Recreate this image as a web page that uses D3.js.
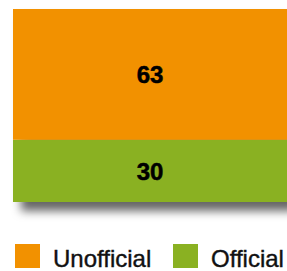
<!DOCTYPE html>
<html>
<head>
  <style>
    body { margin: 0; background: #fff; }
    .value { font-family: "Liberation Sans", Arial, sans-serif; font-size: 24px; font-weight: bold; fill: #000; stroke: #000; stroke-width: 0.5px; }
    .legend-text { font-family: "Liberation Sans", Arial, sans-serif; font-size: 24px; fill: #111; stroke: #111; stroke-width: 0.4px; }
  </style>
</head>
<body>
  <script src="https://cdn.jsdelivr.net/npm/d3@7"></script>
  <script>
    // data
    const categories = ["Official", "Unofficial"];
    const values = [30, 63];
    const colors = ["#8ab122", "#f29100"];

    const width = 287, height = 271;
    const margin = { top: 9, right: -1, bottom: 69, left: 13 };

    const svg = d3.select("body").append("svg")
      .attr("width", width)
      .attr("height", height);

    // drop shadow under the bar
    const filter = svg.append("defs").append("filter")
      .attr("id", "shadow")
      .attr("x", "-10%").attr("y", "-10%")
      .attr("width", "130%").attr("height", "130%");
    filter.append("feDropShadow")
      .attr("dx", 8).attr("dy", 9)
      .attr("stdDeviation", 5)
      .attr("flood-color", "#000")
      .attr("flood-opacity", 0.6);

    // stacked positions
    const stacked = [];
    let acc = 0;
    values.forEach((v, i) => {
      stacked.push({ name: categories[i], value: v, y0: acc, y1: acc + v, color: colors[i] });
      acc += v;
    });

    const y = d3.scaleLinear()
      .domain([0, d3.sum(values)])
      .range([height - margin.bottom, margin.top]);
    const x = d3.scaleBand()
      .domain(["all"])
      .range([margin.left, width - margin.right])
      .padding(0);

    const bar = svg.append("g").attr("filter", "url(#shadow)");
    bar.selectAll("rect")
      .data(stacked)
      .enter()
      .append("rect")
      .attr("x", x("all"))
      .attr("width", x.bandwidth())
      .attr("y", d => y(d.y1))
      .attr("height", d => y(d.y0) - y(d.y1))
      .attr("fill", d => d.color);

    svg.selectAll(".value")
      .data(stacked)
      .enter()
      .append("text")
      .attr("class", "value")
      .attr("x", x("all") + 137)
      .attr("y", d => (y(d.y0) + y(d.y1)) / 2 + 9)
      .attr("text-anchor", "middle")
      .text(d => d.value);

    // legend (Unofficial first)
    const legendItems = [stacked[1], stacked[0]];
    const legendX = [15, 173];
    const legend = svg.selectAll(".legend")
      .data(legendItems)
      .enter()
      .append("g")
      .attr("transform", (d, i) => `translate(${legendX[i]},244)`);
    legend.append("rect")
      .attr("width", 25)
      .attr("height", 24)
      .attr("fill", d => d.color);
    legend.append("text")
      .attr("class", "legend-text")
      .attr("x", 38)
      .attr("y", 23)
      .text(d => d.name);
  </script>
</body>
</html>
